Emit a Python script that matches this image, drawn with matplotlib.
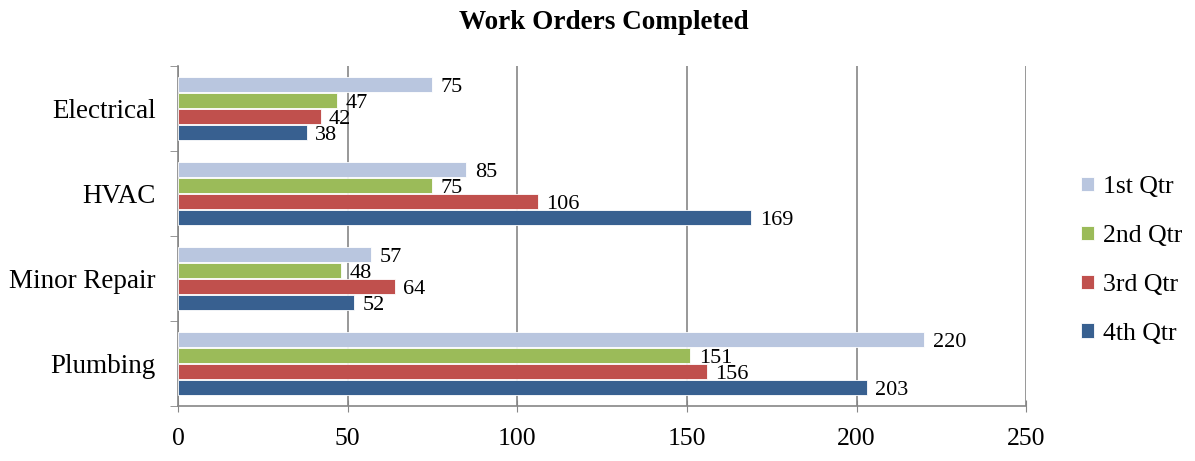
import matplotlib.pyplot as plt
import numpy as np

# Data
categories = ["Electrical", "HVAC", "Minor Repair", "Plumbing"]
quarters = ["1st Qtr", "2nd Qtr", "3rd Qtr", "4th Qtr"]
q1 = [75, 85, 57, 220]
q2 = [47, 75, 48, 151]
q3 = [42, 106, 64, 156]
q4 = [38, 169, 52, 203]
colors = ["#B9C6DF", "#9BBB59", "#C0504D", "#386090"]

plt.rcParams['font.family'] = ['Liberation Serif', 'DejaVu Serif']

fig = plt.figure(figsize=(11.95, 4.61), dpi=100)
ax = fig.add_axes([0.149, 0.1193, 0.7097, 0.7377])

# Categories top to bottom
y = np.arange(len(categories))
bar_h = 0.176
offsets = [-1.5, -0.5, 0.5, 1.5]

for vals, off, col, name in zip([q1, q2, q3, q4], offsets, colors, quarters):
    pos = y + off * 0.188
    ax.barh(pos, vals, height=bar_h, color=col, edgecolor='white',
            linewidth=0.6, label=name, zorder=3)
    for p, v in zip(pos, vals):
        ax.annotate(str(v), (v, p), xytext=(6, -2.5), textcoords='offset points',
                    va='center', ha='left', fontsize=16, zorder=4)

ax.set_ylim(len(categories) - 0.5, -0.5)
ax.set_xlim(0, 250)
ax.set_xticks([0, 50, 100, 150, 200, 250])
ax.tick_params(axis='x', labelsize=18.5, direction='inout', length=8,
               color='#868686', pad=12)

# Category labels in the middle, tick marks on the boundaries
ax.set_yticks(y)
ax.set_yticklabels(categories, fontsize=19.5)
ax.tick_params(axis='y', length=0, pad=16)
ax.set_yticks(np.arange(-0.5, len(categories)), minor=True)
ax.tick_params(axis='y', which='minor', length=6, color='#868686')

ax.xaxis.grid(True, color='#868686', linewidth=1.2, zorder=0)
ax.set_axisbelow(True)
for s in ['top', 'right']:
    ax.spines[s].set_visible(False)
for s in ['left', 'bottom']:
    ax.spines[s].set_color('#868686')
    ax.spines[s].set_linewidth(1.2)

fig.text(0.505, 0.952, "Work Orders Completed", ha='center', va='center',
         fontsize=19.5, fontweight='bold')

handles, labels = ax.get_legend_handles_labels()
fig.legend(handles, labels, loc='center left', bbox_to_anchor=(0.9045, 0.435),
           frameon=False, fontsize=18.5, handlelength=0.5, handleheight=0.5,
           handletextpad=0.35, labelspacing=1.05, borderpad=0, borderaxespad=0)

fig.savefig('out.png', dpi=100)
